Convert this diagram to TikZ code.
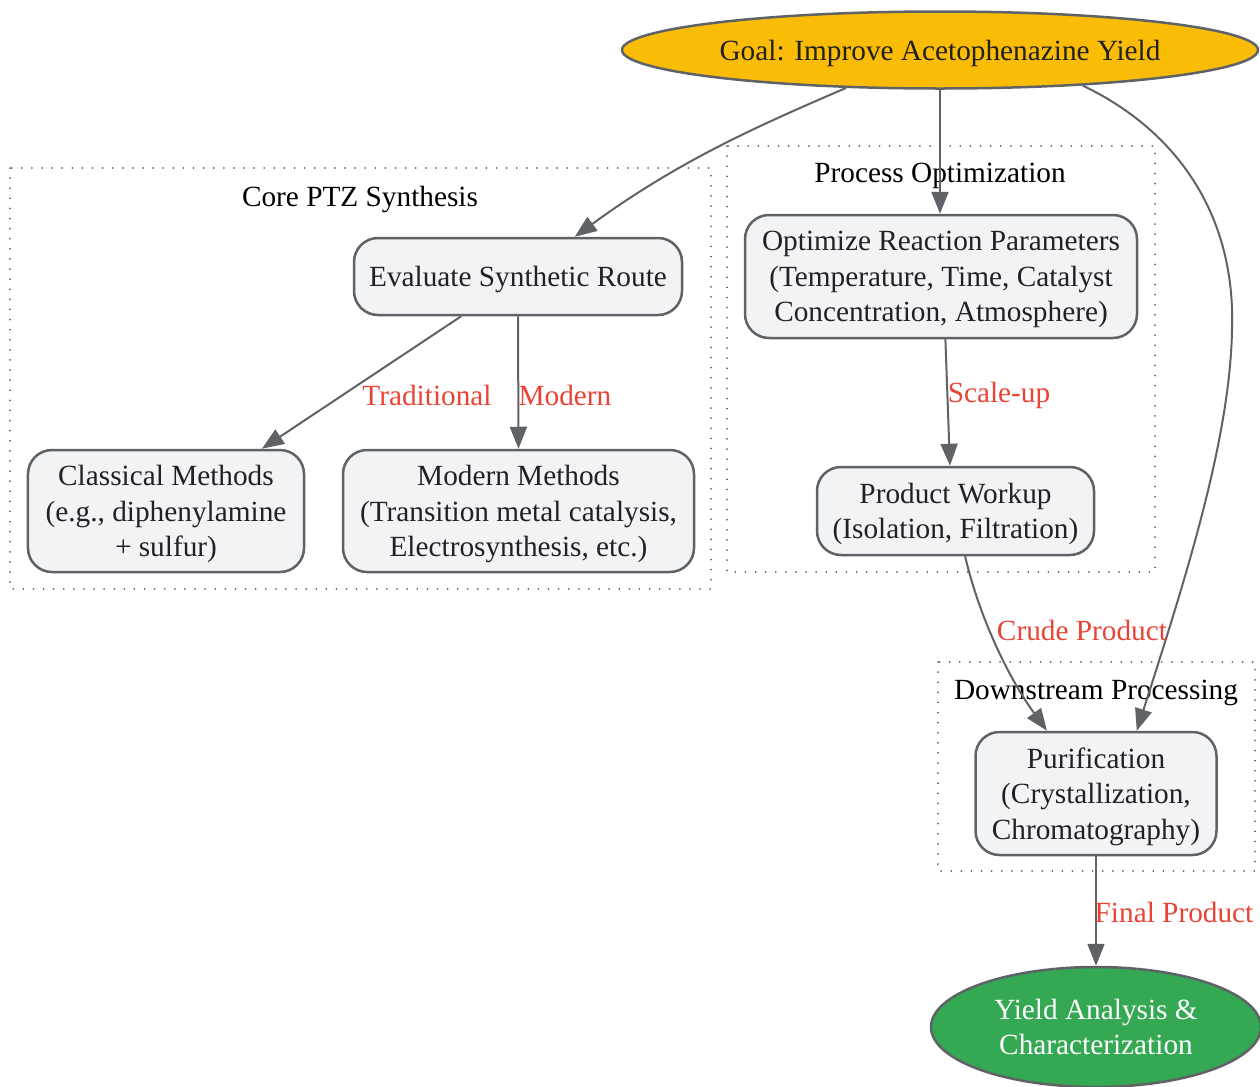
\documentclass[tikz,border=0pt]{standalone}
\usepackage{fontspec}
\setmainfont{Liberation Serif}
\usetikzlibrary{arrows.meta,shapes.geometric}

\definecolor{linegray}{HTML}{5F6368}
\definecolor{boxgray}{HTML}{F1F3F4}
\definecolor{goalyellow}{HTML}{FBBC05}
\definecolor{resultgreen}{HTML}{34A853}
\definecolor{labelred}{HTML}{EA4335}
\definecolor{textdark}{HTML}{202124}

\tikzset{
  every node/.style={font=\fontsize{29.4}{35.5}\selectfont},
  stepbox/.style={draw=linegray, line width=2.5bp, fill=boxgray, rounded corners=24bp,
                  align=center, inner sep=0pt, text depth=0pt, text=textdark},
  goalnode/.style={ellipse, draw=linegray, line width=2.5bp, fill=goalyellow,
                   inner sep=0pt, text depth=0pt, text=textdark},
  endnode/.style={ellipse, draw=linegray, line width=2.5bp, fill=resultgreen,
                  align=center, inner sep=0pt, text depth=0pt, text=white},
  flow/.style={draw=linegray, line width=2bp, -{Triangle[length=22bp,width=17bp]}},
  edgelabel/.style={text=labelred, inner sep=0pt},
  cluster/.style={draw=linegray, line width=1.8bp, line cap=round, dash pattern=on 0.1bp off 10bp},
  clustername/.style={text=black, inner sep=0pt, text depth=0pt}
}

\begin{document}
\begin{tikzpicture}[x=1bp, y=-1bp]
  \useasboundingbox (0,0) rectangle (1260,1087);

  % groups
  \draw[cluster] (10,168) rectangle (711,589);
  \node[clustername] (coreName) at (360,196) {Core PTZ Synthesis};
  \draw[cluster] (727,146) rectangle (1155,572);
  \node[clustername] (procName) at (940,173) {Process Optimization};
  \draw[cluster] (938,662) rectangle (1255,871);
  \node[clustername] (downName) at (1096,690) {Downstream Processing};

  % steps
  \node[goalnode, minimum width=636bp, minimum height=77bp] (goal) at (940,50)
    {Goal: Improve Acetophenazine Yield};
  \node[stepbox, minimum width=328bp, minimum height=77bp] (eval) at (518,276.5)
    {Evaluate Synthetic Route};
  \node[stepbox, minimum width=276bp, minimum height=122bp] (classic) at (166,511)
    {Classical Methods\\(e.g., diphenylamine\\+ sulfur)};
  \node[stepbox, minimum width=351bp, minimum height=122bp] (modern) at (518.5,511)
    {Modern Methods\\(Transition metal catalysis,\\Electrosynthesis, etc.)};
  \node[stepbox, minimum width=392bp, minimum height=123bp] (optim) at (941,276.5)
    {Optimize Reaction Parameters\\(Temperature, Time, Catalyst\\Concentration, Atmosphere)};
  \node[stepbox, minimum width=277bp, minimum height=88bp] (work) at (955.5,511)
    {Product Workup\\(Isolation, Filtration)};
  \node[stepbox, minimum width=241bp, minimum height=123bp] (purif) at (1096,793.5)
    {Purification\\(Crystallization,\\Chromatography)};
  \node[endnode, minimum width=330bp, minimum height=120bp] (yield) at (1096,1027)
    {Yield Analysis \&\\Characterization};

  % flows
  \draw[flow] (goal.202) .. controls (760,125) and (680,160) .. (eval.35);
  \draw[flow] (goal.south) -- (goal.south |- optim.north);
  \draw[flow] (goal.-14) .. controls (1172,128) and (1236,210) .. (1232,330)
                         .. controls (1230,440) and (1185,580) .. (purif.57);
  \draw[flow] (eval.215) -- (classic.33);
  \draw[flow] (eval.south) -- (modern.north);
  \draw[flow] (optim.-86) -- (work.97);
  \draw[flow] (work.-78) .. controls (980,620) and (1010,680) .. (purif.128);
  \draw[flow] (purif.south) -- (yield.north);

  % flow labels
  \node[edgelabel] (tradLbl) at (427,395) {Traditional};
  \node[edgelabel] (modLbl) at (565,395) {Modern};
  \node[edgelabel] (scaleLbl) at (999,395) {Scale-up};
  \node[edgelabel] (crudeLbl) at (1082,630) {Crude Product};
  \node[edgelabel] (finalLbl) at (1174,912) {Final Product};
\end{tikzpicture}
\end{document}
